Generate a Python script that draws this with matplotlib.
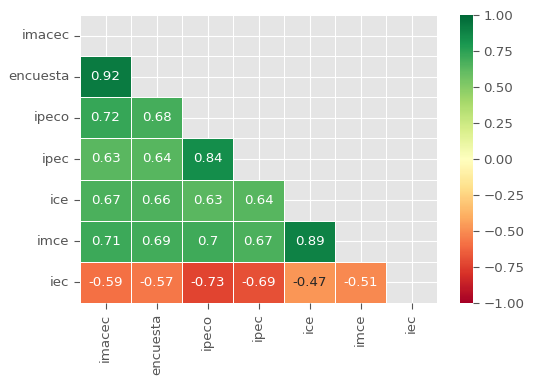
import numpy as np
import pandas as pd
import matplotlib
matplotlib.use("Agg")
import matplotlib.pyplot as plt
import seaborn as sns

plt.style.use("ggplot")
plt.rcParams["font.size"] = 9.6

labels = ["imacec", "encuesta", "ipeco", "ipec", "ice", "imce", "iec"]

# lower triangle of the correlation matrix, row by row
row_encuesta = [0.92]
row_ipeco = [0.72, 0.68]
row_ipec = [0.63, 0.64, 0.84]
row_ice = [0.67, 0.66, 0.63, 0.64]
row_imce = [0.71, 0.69, 0.70, 0.67, 0.89]
row_iec = [-0.59, -0.57, -0.73, -0.69, -0.47, -0.51]

rows = [[], row_encuesta, row_ipeco, row_ipec, row_ice, row_imce, row_iec]
n = len(labels)
mat = np.eye(n)
for i, r in enumerate(rows):
    for j, v in enumerate(r):
        mat[i, j] = v
        mat[j, i] = v
corr = pd.DataFrame(mat, index=labels, columns=labels)
mask = np.triu(np.ones_like(mat, dtype=bool))

fig = plt.figure(figsize=(5.34, 3.85), dpi=100)
ax = fig.add_axes([80 / 534, 1 - 303 / 385, 357 / 534, 288 / 385])
cax = fig.add_axes([460 / 534, 1 - 303 / 385, 13 / 534, 288 / 385])

sns.heatmap(corr, mask=mask, cmap="RdYlGn", vmin=-1, vmax=1, annot=True,
            annot_kws={"size": 9.6}, linewidths=0.5, ax=ax, cbar_ax=cax)
ax.tick_params(left=True, bottom=True, length=4, color="#555555",
               labelsize=9.6)
cbar_ticks = [-1, -0.75, -0.5, -0.25, 0, 0.25, 0.5, 0.75, 1]
cax.set_yticks(cbar_ticks)
cax.set_yticklabels([f"{t:.2f}".replace("-", "\u2212") for t in cbar_ticks])
cax.tick_params(right=True, length=4, color="#555555", labelsize=9.6)

fig.savefig("out.png", dpi=100)
